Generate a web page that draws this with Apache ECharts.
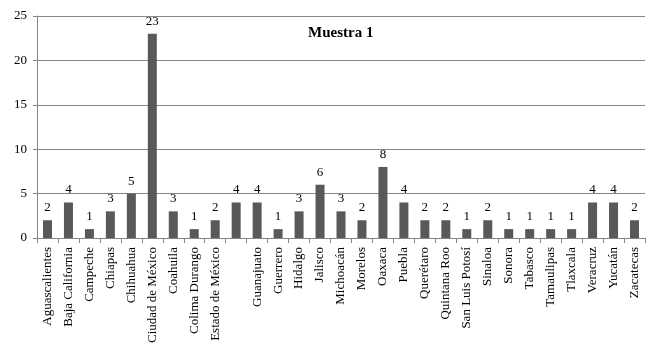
<!DOCTYPE html>
<html><head><meta charset="utf-8">
<script src="https://cdn.jsdelivr.net/npm/echarts@6/dist/echarts.min.js"></script>
<style>html,body{margin:0;padding:0;background:#fff}#c{width:652px;height:353px}</style>
</head><body><div id="c"></div>
<script>
const categories = ["Aguascalientes","Baja California","Campeche","Chiapas","Chihuahua","Ciudad de México","Coahuila","Colima Durango","Estado de México","","Guanajuato","Guerrero","Hidalgo","Jalisco","Michoacán","Morelos","Oaxaca","Puebla","Querétaro","Quintana Roo","San Luis Potosí","Sinaloa","Sonora","Tabasco","Tamaulipas","Tlaxcala","Veracruz","Yucatán","Zacatecas"];
const values = [2,4,1,3,5,23,3,1,2,4,4,1,3,6,3,2,8,4,2,2,1,2,1,1,1,1,4,4,2];
const yTicks = [0,5,10,15,20,25];
const titleText = "Muestra 1";
const font = "Times New Roman";
const chart = echarts.init(document.getElementById('c'));
chart.setOption({
  animation:false,
  title:{text:titleText,left:303,top:21,textStyle:{fontFamily:font,fontSize:15,fontWeight:'bold',color:'#000'}},
  grid:{left:37,right:7,top:16,bottom:115,containLabel:false},
  xAxis:{type:'category',data:categories,
    axisLine:{lineStyle:{color:'#868686',width:1}},
    axisTick:{show:true,length:5,lineStyle:{color:'#868686'}},
    axisLabel:{rotate:90,interval:0,fontFamily:font,fontSize:13,color:'#000',margin:9}},
  yAxis:{type:'value',min:0,max:25,interval:5,
    axisLine:{show:true,lineStyle:{color:'#868686'}},
    axisTick:{show:true,length:4,lineStyle:{color:'#868686'}},
    splitLine:{lineStyle:{color:'#868686',width:1}},
    axisLabel:{fontFamily:font,fontSize:13,color:'#000',margin:10,
      formatter:v=>yTicks.includes(v)?String(v):''}},
  series:[{type:'bar',data:values,barWidth:9,
    itemStyle:{color:'#595959'},
    label:{show:true,position:'top',distance:6,fontFamily:font,fontSize:13,color:'#000'}}]
});
</script></body></html>
